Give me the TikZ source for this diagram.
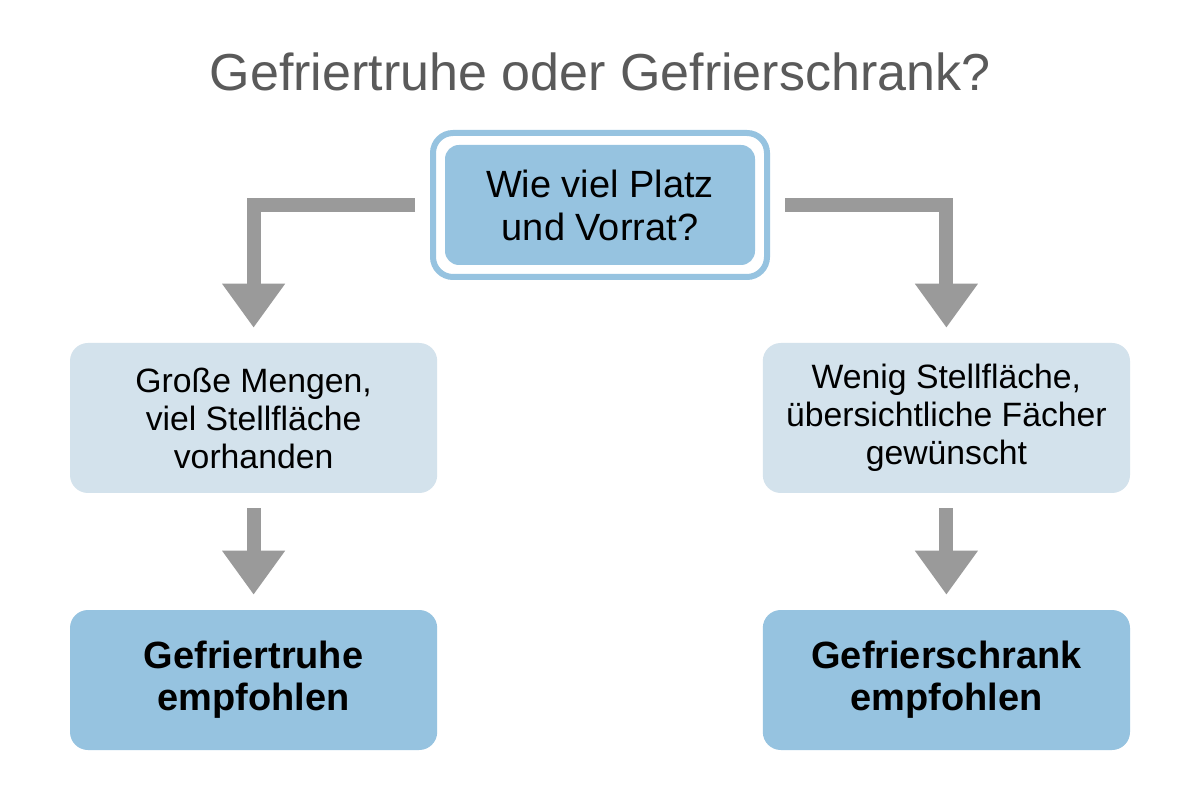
\documentclass[tikz,border=0pt]{standalone}
\usepackage{fontspec}
\setmainfont{Liberation Sans}
\usetikzlibrary{arrows.meta}
\definecolor{titlegray}{HTML}{5A5A5A}
\definecolor{arrowgray}{HTML}{9A9A9A}
\definecolor{paleblue}{HTML}{D3E2EC}
\definecolor{midblue}{HTML}{96C3E0}
\begin{document}
\begin{tikzpicture}[
    box/.style={rounded corners=0.45cm,minimum width=9.18cm,align=center,text=black},
    cond/.style={box,fill=paleblue,minimum height=3.75cm,font=\fontsize{24}{27}\selectfont},
    result/.style={box,fill=midblue,minimum height=3.5cm,font=\fontsize{27}{30}\selectfont\bfseries},
    arr/.style={draw=arrowgray,line width=0.35cm,-{Triangle[width=1.5cm,length=1.1cm]},
      shorten <=0.375cm,shorten >=0.375cm}]
    \useasboundingbox (0,0) rectangle (30,20);
    \fill[white] (0,0) rectangle (30,20);
    \node[text=titlegray,font=\fontsize{37}{40}\selectfont] (title) at (15,18.2) {Gefriertruhe oder Gefrierschrank?};
    \node[draw=midblue,line width=0.15cm,rounded corners=0.5cm,minimum width=8.35cm,minimum height=3.6cm] (frame) at (15,14.875) {};
    \node[box,fill=midblue,minimum width=7.75cm,minimum height=3cm,rounded corners=0.35cm,font=\fontsize{27}{30.5}\selectfont] (start) at (15,14.875) {Wie viel Platz\\und Vorrat?};
    \node[cond] (left) at (6.34,9.55) {Große Mengen,\\viel Stellfläche\\vorhanden};
    \node[cond] (right) at (23.66,9.55) {Wenig Stellfläche,\\übersichtliche Fächer\\gewünscht};
    \node[result] (truhe) at (6.34,3) {Gefriertruhe\\empfohlen};
    \node[result] (schrank) at (23.66,3) {Gefrierschrank\\empfohlen};
    \draw[arr] (frame.west) -| (left.north);
    \draw[arr] (frame.east) -| (right.north);
    \draw[arr] (left) -- (truhe);
    \draw[arr] (right) -- (schrank);
\end{tikzpicture}
\end{document}
